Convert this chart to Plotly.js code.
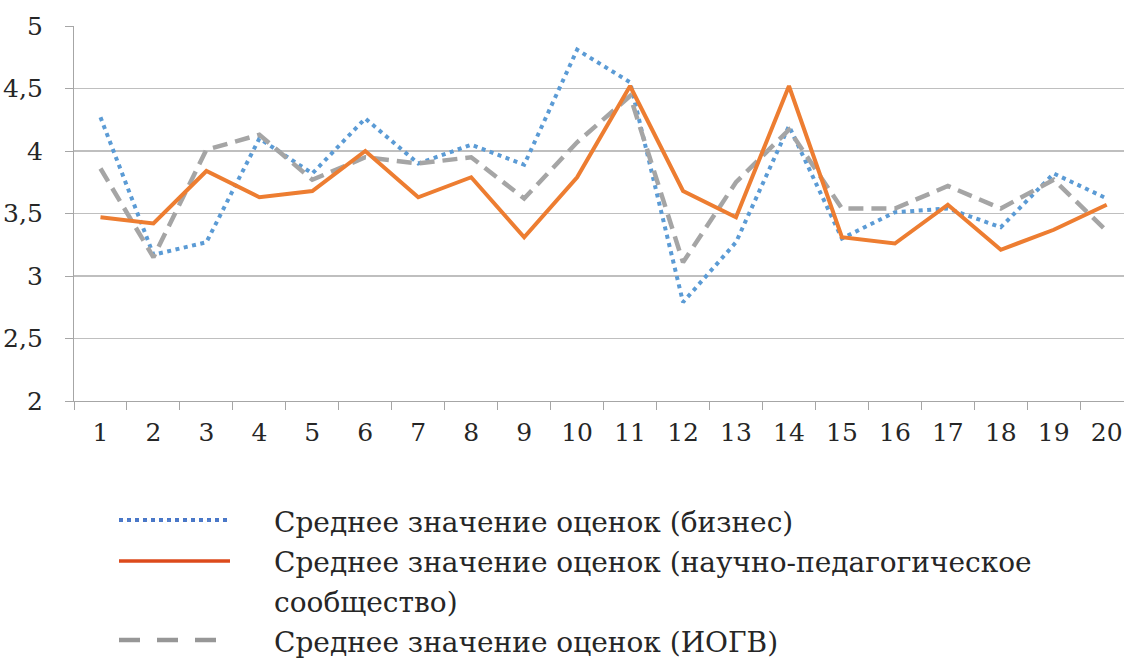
<!DOCTYPE html>
<html>
<head>
<meta charset="utf-8">
<script src="https://cdn.plot.ly/plotly-3.0.1.min.js"></script>
<style>html,body{margin:0;padding:0;background:#fff;}#chart{width:1124px;height:659px;}</style>
</head>
<body>
<div id="chart"></div>
<script>
const categories = ["1","2","3","4","5","6","7","8","9","10","11","12","13","14","15","16","17","18","19","20"];
const business = [4.27,3.17,3.27,4.10,3.82,4.26,3.90,4.05,3.89,4.81,4.55,2.79,3.27,4.20,3.30,3.51,3.54,3.39,3.82,3.62];
const science  = [3.47,3.42,3.84,3.63,3.68,4.00,3.63,3.79,3.31,3.79,4.52,3.68,3.47,4.52,3.31,3.26,3.57,3.21,3.37,3.57];
const iogv     = [3.86,3.15,4.01,4.13,3.77,3.95,3.90,3.95,3.62,4.07,4.44,3.11,3.75,4.17,3.54,3.54,3.72,3.54,3.77,3.36];
const yTickVals = [2,2.5,3,3.5,4,4.5,5];
const yTickText = ["2","2,5","3","3,5","4","4,5","5"];
const seriesNames = [
  "Среднее значение оценок (бизнес)",
  "Среднее значение оценок (научно-педагогическое",
  "сообщество)",
  "Среднее значение оценок (ИОГВ)"
];

const W = 1124, H = 659, L = 74, R = 0, T = 26, B = 258;
const pw = W - L - R, ph = H - T - B;
const px = p => (p - L) / pw;
const py = p => (H - B - p) / ph;
const FONT = "DejaVu Serif";

const traces = [
  {x: categories, y: business, type: "scatter", mode: "lines", name: seriesNames[0],
   line: {color: "#5B9BD5", width: 4, dash: "4px,4.5px"}},
  {x: categories, y: iogv, type: "scatter", mode: "lines", name: seriesNames[3],
   line: {color: "#A5A5A5", width: 4.5, dash: "15px,8px"}},
  {x: categories, y: science, type: "scatter", mode: "lines", name: seriesNames[1],
   line: {color: "#ED7D31", width: 4}}
];

const shapes = [
  {type: "line", xref: "paper", yref: "paper", x0: px(119), x1: px(230), y0: py(520), y1: py(520),
   line: {color: "#4a78c8", width: 4, dash: "4px,4px"}},
  {type: "line", xref: "paper", yref: "paper", x0: px(119), x1: px(230), y0: py(561), y1: py(561),
   line: {color: "#dc4a1c", width: 3.5}},
  {type: "line", xref: "paper", yref: "paper", x0: px(119), x1: px(218), y0: py(640), y1: py(640),
   line: {color: "#979797", width: 4.5, dash: "21px,17px"}}
];

const annRows = [522, 562, 602, 642];
const annotations = seriesNames.map((t, i) => ({
  text: t, xref: "paper", yref: "paper", x: px(272), y: py(annRows[i]),
  xanchor: "left", yanchor: "middle", showarrow: false,
  font: {family: FONT, size: 28, color: "#262626"}
}));

const layout = {
  width: W, height: H,
  margin: {l: L, r: R, t: T, b: B, pad: 0},
  paper_bgcolor: "#fff", plot_bgcolor: "#fff",
  showlegend: false,
  font: {family: FONT, size: 25, color: "#262626"},
  xaxis: {
    type: "category", range: [-0.5, -0.5 + pw / 52.96],
    tickson: "boundaries", ticks: "outside", ticklen: 8, tickcolor: "#a6a6a6", tickwidth: 1,
    showgrid: false, showline: true, linecolor: "#a6a6a6", linewidth: 1.2,
    zeroline: false, ticklabelstandoff: 9,
    tickfont: {family: FONT, size: 25, color: "#262626"}
  },
  yaxis: {
    range: [2, 5], tickvals: yTickVals, ticktext: yTickText,
    ticks: "outside", ticklen: 8, tickcolor: "#a6a6a6", tickwidth: 1,
    showgrid: true, gridcolor: "#bfbfbf", gridwidth: 1.2,
    showline: true, linecolor: "#a6a6a6", linewidth: 1.2, zeroline: false,
    ticklabelstandoff: 17,
    tickfont: {family: FONT, size: 25, color: "#262626"}
  },
  shapes: shapes,
  annotations: annotations
};

Plotly.newPlot("chart", traces, layout, {displayModeBar: false, staticPlot: true});
</script>
</body>
</html>
